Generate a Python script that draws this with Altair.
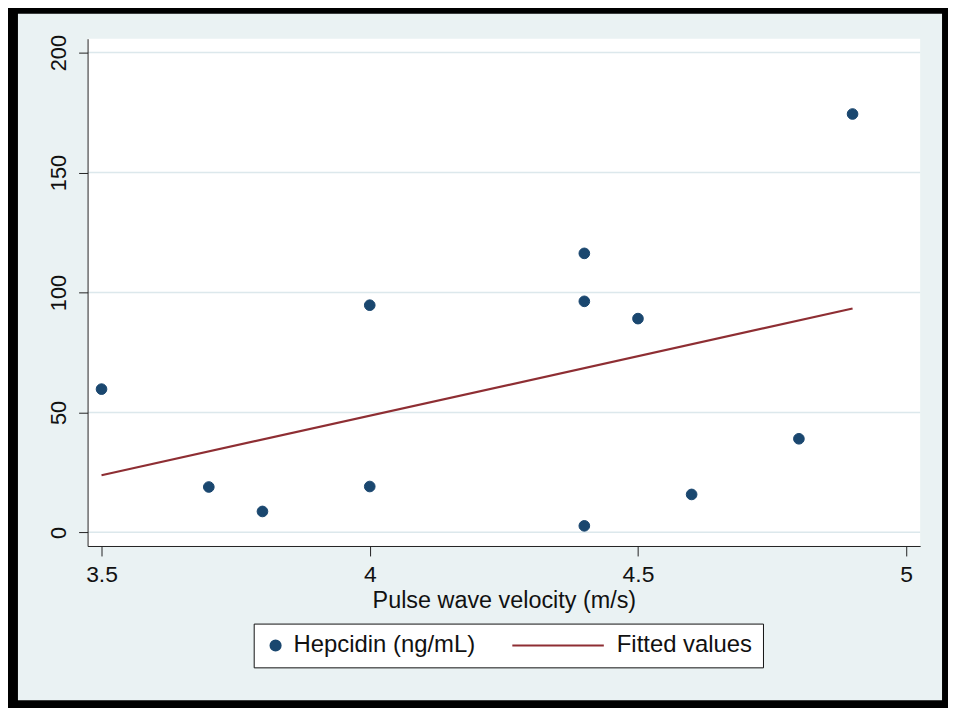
import altair as alt
import pandas as pd

# ---- data ----
pwv = [3.5, 3.7, 3.8, 4.0, 4.0, 4.4, 4.4, 4.4, 4.5, 4.6, 4.8, 4.9]
hepcidin = [59.7, 18.9, 8.7, 94.7, 19.1, 116.3, 96.3, 2.7, 89.1, 15.8, 39.0, 174.4]
fit_x = [3.5, 4.9]
fit_y = [23.8, 93.3]
y_ticks = [0, 50, 100, 150, 200]
x_ticks = [3.5, 4, 4.5, 5]
series = ["Hepcidin (ng/mL)", "Fitted values"]

NAVY = "#1A476F"
RED = "#8E2E33"
BG = "#EAF2F3"
GRID = "#DCE8EC"
FONT = "Liberation Sans"
W, H = 837, 510

pts = pd.DataFrame({"x": pwv, "y": hepcidin, "series": series[0]})
fit = pd.DataFrame({"x": fit_x, "y": fit_y})
grid = pd.DataFrame({"g": y_ticks})
one = pd.DataFrame({"a": [0]})

xscale = alt.Scale(domain=[3.474, 5.026], nice=False, zero=False)
yscale = alt.Scale(domain=[-5.7, 205.8], nice=False, zero=False)

xaxis = alt.Axis(values=x_ticks, format="~g", title="Pulse wave velocity (m/s)", grid=False,
                 tickSize=10, labelPadding=8, labelFontSize=23, titleFontSize=23.5,
                 titleFontWeight="normal", titlePadding=2, labelFont=FONT, titleFont=FONT,
                 domainColor="#222222", tickColor="#222222", labelColor="#111111",
                 titleColor="#111111", labelFlush=False, zindex=1)
yaxis = alt.Axis(values=y_ticks, title=None, grid=False, tickSize=9, labelPadding=8,
                 labelAngle=270, labelAlign="center", labelBaseline="bottom",
                 labelFontSize=22, labelFont=FONT, labelColor="#111111",
                 domainColor="#222222", tickColor="#222222", labelFlush=False, zindex=1)

frame = alt.Chart(one).mark_rect(color=BG).encode(
    x=alt.value(-70), x2=alt.value(W + 22), y=alt.value(-25), y2=alt.value(H + 155))
plotbg = alt.Chart(one).mark_rect(color="white").encode(
    x=alt.value(0), x2=alt.value(W), y=alt.value(0), y2=alt.value(H))

gridlines = alt.Chart(grid).mark_rule(color=GRID, strokeWidth=1.5).encode(
    y=alt.Y("g:Q", scale=yscale, axis=yaxis))

line = alt.Chart(fit).mark_line(color=RED, strokeWidth=2.2).encode(
    x=alt.X("x:Q", scale=xscale, axis=xaxis),
    y=alt.Y("y:Q", scale=yscale, axis=yaxis))

legend = alt.Legend(title=None, orient="none", legendX=167, legendY=588, direction="horizontal",
                    strokeColor="#111111", fillColor="white", padding=10,
                    labelFont=FONT, labelFontSize=24, labelColor="#111111", labelLimit=0,
                    labelOffset=6, columnPadding=32, symbolStrokeWidth=2.2, zindex=2)

# legend glyph for the fitted line: a long horizontal stroke
line_glyph = "M-17.4,0H1"

points = alt.Chart(pts).mark_point(filled=True, opacity=1, strokeWidth=1, size=115).encode(
    x=alt.X("x:Q", scale=xscale, axis=xaxis),
    y=alt.Y("y:Q", scale=yscale, axis=yaxis),
    color=alt.Color("series:N", scale=alt.Scale(domain=series, range=[NAVY, RED]), legend=legend),
    stroke=alt.Stroke("series:N", scale=alt.Scale(domain=series, range=[NAVY, RED]), legend=legend),
    shape=alt.Shape("series:N", scale=alt.Scale(domain=series, range=["circle", line_glyph]), legend=legend),
)

chart = alt.layer(frame, plotbg, gridlines, line, points).properties(
    width=W, height=H,
    background="#000000",
    padding={"left": 10, "top": 4, "right": 6, "bottom": 6},
).configure_view(stroke=None)

chart.save("out.html", embed_options={"renderer": "svg", "actions": False})
